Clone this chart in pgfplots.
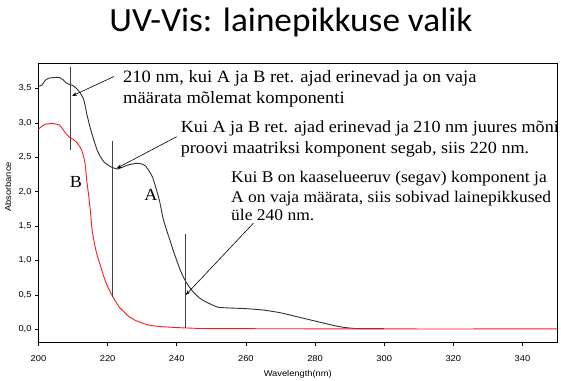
\documentclass[border=0pt]{standalone}
\usepackage{fontspec}
\setmainfont{Liberation Serif}
\newfontfamily\annfont[FakeStretch=1.07]{Liberation Serif}
\newfontfamily\arial[FakeStretch=1.1]{Liberation Sans}
\newfontfamily\calibri[FakeStretch=1.04]{Carlito}
\usepackage{pgfplots}
\pgfplotsset{compat=1.18}
\usetikzlibrary{arrows.meta}
\definecolor{curveA}{HTML}{303030}
\definecolor{curveB}{HTML}{FF1A1A}
\definecolor{vline}{HTML}{404040}
\begin{document}
\begin{tikzpicture}
\path[use as bounding box] (0,0) rectangle (561bp,381bp);
\begin{axis}[
  at={(38.5bp,38.3bp)}, anchor=south west,
  width=518.5bp, height=279.7bp, scale only axis,
  xmin=200, xmax=350, ymin=-0.195, ymax=3.87,
  xtick={200,220,...,340},
  ytick={0,0.5,...,3.5},
  tick pos=left, tick align=outside, major tick length=3.5bp,
  axis line style={line width=0.9bp},
  every tick/.style={black, line width=0.7bp},
  /pgf/number format/assume math mode=true,
  yticklabel style={/pgf/number format/fixed, /pgf/number format/fixed zerofill, /pgf/number format/precision=1, /pgf/number format/use comma},
  xticklabel style={/pgf/number format/fixed, /pgf/number format/precision=0, yshift=-5.5bp},
  ticklabel style={font=\arial\fontsize{8.5}{10}\selectfont},
  xlabel={Wavelength(nm)}, ylabel={Absorbance},
  xlabel style={font=\arial\fontsize{8.5}{10}\selectfont, at={(axis description cs:0.5,-0.112)}, anchor=center},
  ylabel style={font=\arial\fontsize{8.5}{10}\selectfont, at={(axis description cs:-0.0588,0.557)}, anchor=center},
]
\addplot[curveA, line width=0.9bp, smooth, tension=0.3] coordinates {
(200,3.53)(201,3.55)(202,3.62)(203,3.65)(205,3.66)(206,3.66)(207,3.63)(208,3.58)(209,3.56)(210,3.54)(211,3.50)(212,3.44)(213,3.35)(213.5,3.25)(214,3.12)(214.5,3.02)(215,2.92)(216,2.75)(217,2.6)(218,2.5)(219,2.43)(220,2.39)(221,2.36)(222,2.34)(223,2.33)(224,2.35)(225,2.37)(226,2.39)(227,2.40)(228,2.41)(229,2.41)(230,2.40)(231,2.37)(232,2.30)(233,2.21)(234,2.05)(235,1.87)(236,1.62)(237,1.45)(238,1.30)(239,1.14)(240,1.0)(241,0.86)(242,0.75)(243,0.66)(244,0.59)(245,0.53)(246,0.48)(247,0.44)(248,0.41)(250,0.36)(252,0.32)(255,0.31)(260,0.30)(265,0.28)(270,0.24)(275,0.18)(280,0.12)(285,0.06)(288,0.03)(292,0.01)(300,0.01)
};
\addplot[curveB, line width=0.9bp, smooth, tension=0.3] coordinates {
(200,2.91)(201,2.95)(202,2.98)(204,2.99)(206,2.97)(207,2.91)(208,2.84)(209,2.79)(210,2.76)(211,2.72)(212,2.65)(212.5,2.6)(213,2.52)(213.5,2.40)(214,2.15)(214.5,1.95)(215,1.72)(215.5,1.45)(216,1.30)(216.6,1.15)(217,1.07)(218,0.91)(218.6,0.81)(219,0.75)(220,0.62)(221,0.52)(222,0.43)(223,0.35)(223.4,0.32)(224,0.29)(225,0.24)(226,0.19)(227,0.16)(228,0.13)(230,0.09)(232,0.06)(235,0.04)(240,0.025)(245,0.015)(250,0.01)(300,0.005)(350,0.005)
};
\draw[vline, line width=1.2bp] (axis cs:209.3,2.61) -- (axis cs:209.3,3.81);
\draw[vline, line width=1.2bp] (axis cs:221.5,0.47) -- (axis cs:221.5,2.74);
\draw[vline, line width=1.2bp] (axis cs:242.6,0.02) -- (axis cs:242.6,1.39);
\end{axis}
% annotations (pixel coordinates converted: y = 381 - ypx)
\draw[black, line width=0.6bp, -{Stealth[length=5bp,width=3.5bp]}] (114bp,304.5bp) -- (72bp,285bp);
\draw[black, line width=0.6bp, -{Stealth[length=5bp,width=3.5bp]}] (176.7bp,244.3bp) -- (116.7bp,212.7bp);
\draw[black, line width=0.6bp, -{Stealth[length=5bp,width=3.5bp]}] (253.3bp,157.7bp) -- (185.7bp,86bp);
\node[anchor=base, font=\calibri\fontsize{34}{40}\selectfont, inner sep=0] at (291bp,349.3bp) {UV-Vis: lainepikkuse valik};
\begin{scope}[every node/.style={anchor=base west, inner sep=0}]
\node[font=\annfont\fontsize{17.4}{20}\selectfont] at (123bp,298.5bp) {210 nm, kui A ja B ret. ajad erinevad ja on vaja};
\node[font=\annfont\fontsize{17.4}{20}\selectfont] at (123bp,277.5bp) {määrata mõlemat komponenti};
\node[font=\annfont\fontsize{17}{20}\selectfont] at (180.7bp,248bp) {Kui A ja B ret. ajad erinevad ja 210 nm juures mõni};
\node[font=\annfont\fontsize{17}{20}\selectfont] at (180.7bp,227.5bp) {proovi maatriksi komponent segab, siis 220 nm.};
\node[font=\annfont\fontsize{16.4}{20}\selectfont] at (231bp,198bp) {Kui B on kaaselueeruv (segav) komponent ja};
\node[font=\annfont\fontsize{16.4}{20}\selectfont] at (231bp,178.5bp) {A on vaja määrata, siis sobivad lainepikkused};
\node[font=\annfont\fontsize{16.4}{20}\selectfont] at (231bp,160.5bp) {üle 240 nm.};
\node[anchor=center, font=\annfont\fontsize{17}{20}\selectfont] at (76bp,199bp) {B};
\node[anchor=center, font=\annfont\fontsize{17}{20}\selectfont] at (151bp,186bp) {A};
\end{scope}
\end{tikzpicture}
\end{document}
